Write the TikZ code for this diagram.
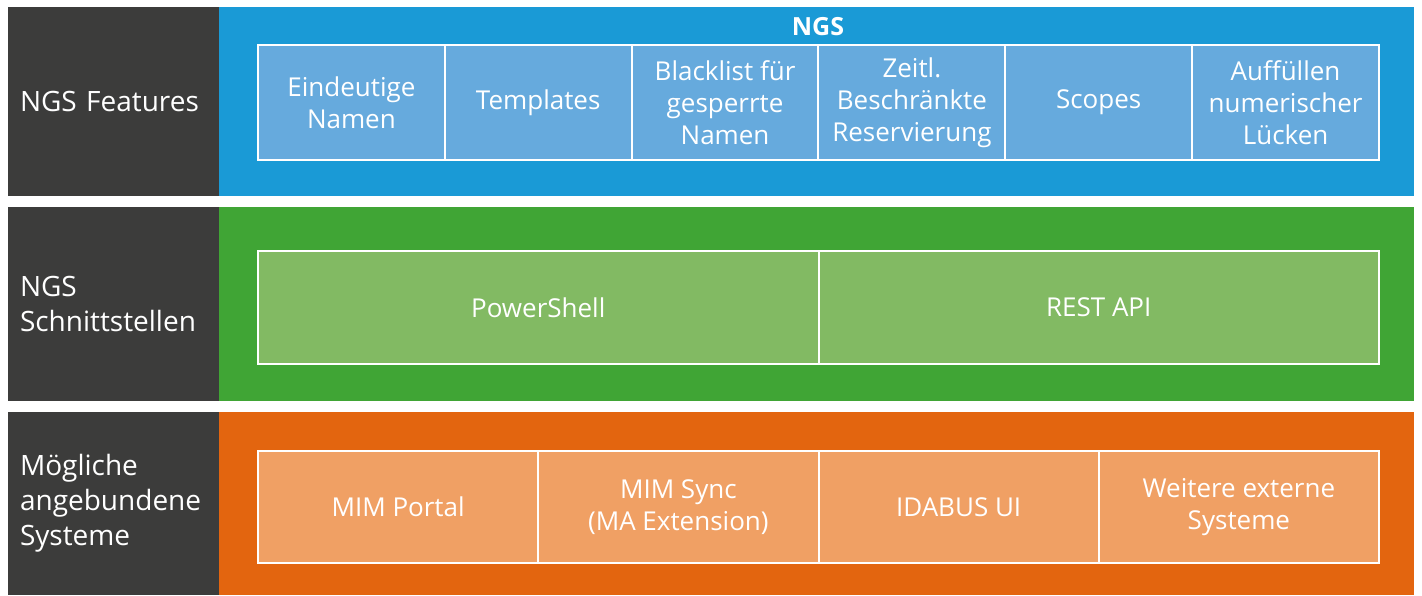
\documentclass[tikz,border=0pt]{standalone}
\usepackage{fontspec}
\setmainfont{Open Sans}
\usetikzlibrary{positioning}

\definecolor{darkside}{HTML}{3C3C3B}
\definecolor{featblue}{HTML}{1A9AD6}
\definecolor{featlight}{HTML}{66AADD}
\definecolor{ifgreen}{HTML}{40A535}
\definecolor{iflight}{HTML}{82BA63}
\definecolor{sysorange}{HTML}{E3650F}
\definecolor{syslight}{HTML}{F0A064}

\begin{document}
\begin{tikzpicture}[
    x=1pt, y=-1pt,
    sidebox/.style={fill=darkside, text=white, anchor=north west, text width=187pt, inner xsep=12pt, inner ysep=0pt, outer sep=0pt, align=left, font=\fontsize{28}{35}\selectfont},
    panel/.style={anchor=north west, inner sep=0pt, outer sep=0pt, minimum width=1195pt},
    cell/.style={draw=white, line width=2pt, anchor=north west, text=white, align=center, inner sep=0pt, font=\fontsize{26}{32}\selectfont}
]
    \useasboundingbox (0,0) rectangle (1422,595);

    % Left column labels
    \node[sidebox, minimum height=189pt] (featside) at (8,7) {NGS Features};
    \node[sidebox, minimum height=194pt] (ifside) at (8,207) {NGS\\Schnittstellen};
    \node[sidebox, minimum height=183pt] (sysside) at (8,412) {Mögliche\\angebundene\\Systeme};

    % Coloured panels
    \node[panel, fill=featblue, minimum height=189pt] (featpanel) at (219,7) {};
    \node[panel, fill=ifgreen, minimum height=194pt] (ifpanel) at (219,207) {};
    \node[panel, fill=sysorange, minimum height=183pt] (syspanel) at (219,412) {};

    % NGS features
    \node[text=white, font=\bfseries\fontsize{25}{30}\selectfont] (ngs) at (818,27) {NGS};
    \foreach \t [count=\i] in {{Eindeutige\\Namen}, Templates, {Blacklist für\\gesperrte\\Namen},
        {Zeitl.\\Beschränkte\\Reservierung}, Scopes, {Auffüllen\\numerischer\\Lücken}} {
        \node[cell, fill=featlight, minimum width=186.8pt, minimum height=115pt] (feat\i) at ({257+(\i-1)*186.83}, 44) {\t};
    }

    % Interfaces
    \foreach \t [count=\i] in {PowerShell, REST API} {
        \node[cell, fill=iflight, minimum width=560.5pt, minimum height=113pt] (if\i) at ({257+(\i-1)*560.5}, 250) {\t};
    }

    % Connected systems
    \foreach \t [count=\i] in {MIM Portal, {MIM Sync\\(MA Extension)}, IDABUS UI, {Weitere externe\\Systeme}} {
        \node[cell, fill=syslight, minimum width=280.25pt, minimum height=112pt] (sys\i) at ({257+(\i-1)*280.25}, 450) {\t};
    }

\end{tikzpicture}
\end{document}
